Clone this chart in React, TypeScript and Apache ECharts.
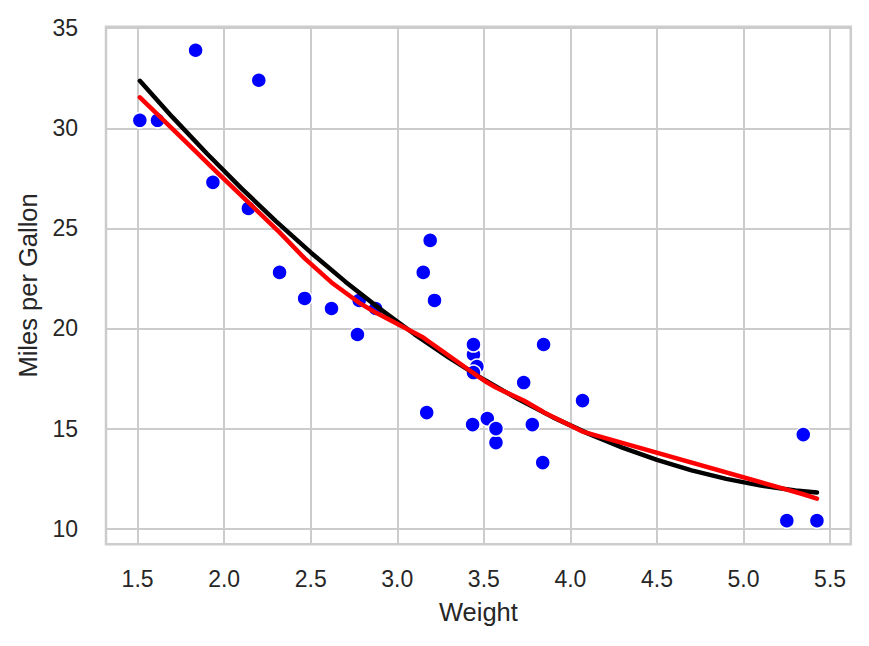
import React, { useEffect, useRef } from "react";
import * as echarts from "echarts";

// mtcars: weight (1000 lbs) and miles per gallon
const weights = [2.62, 2.875, 2.32, 3.215, 3.44, 3.46, 3.57, 3.19, 3.15, 3.44, 3.44, 4.07, 3.73, 3.78, 5.25, 5.424, 5.345, 2.2, 1.615, 1.835, 2.465, 3.52, 3.435, 3.84, 3.845, 1.935, 2.14, 1.513, 3.17, 2.77, 3.57, 2.78];
const mpg = [21.0, 21.0, 22.8, 21.4, 18.7, 18.1, 14.3, 24.4, 22.8, 19.2, 17.8, 16.4, 17.3, 15.2, 10.4, 10.4, 14.7, 32.4, 30.4, 33.9, 21.5, 15.5, 15.2, 13.3, 19.2, 27.3, 26.0, 30.4, 15.8, 19.7, 15.0, 21.4];

// black fitted curve
const blackX = [1.513, 1.7, 1.9, 2.1, 2.3, 2.5, 2.7, 2.9, 3.1, 3.3, 3.5, 3.7, 3.9, 4.1, 4.3, 4.5, 4.7, 4.9, 5.1, 5.3, 5.424];
const blackY = [32.37, 30.57, 28.74, 27.0, 25.35, 23.8, 22.34, 20.98, 19.71, 18.53, 17.45, 16.46, 15.56, 14.76, 14.05, 13.44, 12.91, 12.49, 12.15, 11.91, 11.81];

// red smoothed line
const redX = [1.513, 1.615, 1.835, 1.935, 2.14, 2.2, 2.32, 2.465, 2.62, 2.77, 2.78, 2.875, 3.15, 3.17, 3.19, 3.215, 3.435, 3.44, 3.46, 3.52, 3.57, 3.73, 3.78, 3.84, 3.845, 4.07, 5.25, 5.345, 5.424];
const redY = [31.55, 30.7, 28.85, 28.0, 26.3, 25.8, 24.8, 23.5, 22.3, 21.35, 21.28, 20.8, 19.55, 19.42, 19.3, 19.15, 17.8, 17.77, 17.65, 17.3, 17.05, 16.4, 16.15, 15.85, 15.82, 14.85, 11.95, 11.72, 11.5];

const xName = "Weight";
const yName = "Miles per Gallon";

const FONT = "'Liberation Sans', Arial, sans-serif";
const TEXT = "#262626";

export default function App() {
  const ref = useRef<HTMLDivElement>(null);
  useEffect(() => {
    if (!ref.current) return;
    const chart = echarts.init(ref.current, null, { renderer: "svg" });
    const isMult = (v: number, s: number) => Math.abs(v / s - Math.round(v / s)) < 1e-6;
    chart.setOption({
      animation: false,
      backgroundColor: "#ffffff",
      grid: {
        show: true,
        left: 106,
        top: 26.7,
        width: 744.8,
        height: 517.5,
        borderColor: "#cccccc",
        borderWidth: 2.5,
        containLabel: false,
      },
      xAxis: {
        type: "value",
        min: 1.3175,
        max: 5.6196,
        splitNumber: 9,
        name: xName,
        nameLocation: "middle",
        nameGap: 55,
        nameTextStyle: { fontFamily: FONT, fontSize: 25.5, color: TEXT },
        axisLine: { show: false },
        axisTick: { show: false },
        axisLabel: {
          margin: 23,
          fontFamily: FONT,
          fontSize: 23,
          color: TEXT,
          formatter: (v: number) => (isMult(v, 0.5) ? v.toFixed(1) : ""),
        },
        splitLine: { show: true, lineStyle: { color: "#cccccc", width: 2 } },
      },
      yAxis: {
        type: "value",
        min: 9.225,
        max: 35.075,
        splitNumber: 5,
        name: yName,
        nameLocation: "middle",
        nameGap: 65,
        nameTextStyle: { fontFamily: FONT, fontSize: 25.5, color: TEXT },
        axisLine: { show: false },
        axisTick: { show: false },
        axisLabel: {
          margin: 28,
          fontFamily: FONT,
          fontSize: 23,
          color: TEXT,
          formatter: (v: number) => (isMult(v, 5) ? String(Math.round(v)) : ""),
        },
        splitLine: { show: true, lineStyle: { color: "#cccccc", width: 2 } },
      },
      series: [
        {
          type: "scatter",
          data: weights.map((w, i) => [w, mpg[i]]),
          symbol: "circle",
          symbolSize: 15,
          itemStyle: { color: "#0000ff", borderColor: "#ffffff", borderWidth: 1.5, opacity: 1 },
          z: 2,
        },
        {
          type: "line",
          data: blackX.map((x, i) => [x, blackY[i]]),
          showSymbol: false,
          symbol: "none",
          smooth: false,
          lineStyle: { color: "#000000", width: 4.5, cap: "round", join: "round" },
          z: 3,
        },
        {
          type: "line",
          data: redX.map((x, i) => [x, redY[i]]),
          showSymbol: false,
          symbol: "none",
          smooth: false,
          lineStyle: { color: "#ff0000", width: 4.5, cap: "round", join: "round" },
          z: 4,
        },
      ],
    });
    return () => chart.dispose();
  }, []);
  return (
    <div
      ref={ref}
      style={{ position: "fixed", left: 0, top: 0, width: 869, height: 646, background: "#fff" }}
    />
  );
}
